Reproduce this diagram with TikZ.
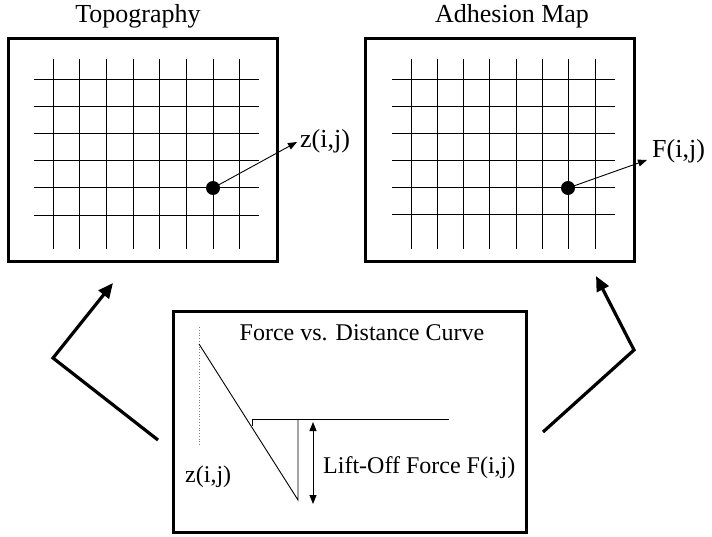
\documentclass[tikz,border=0pt]{standalone}
\usepackage{fontspec}
\setmainfont{Liberation Serif}
\usetikzlibrary{arrows.meta}
\begin{document}
\begin{tikzpicture}[x=1bp,y=-1bp,
  frame/.style={draw, line width=3bp, inner sep=0pt, outer sep=0pt},
  gridline/.style={line width=0.9bp},
  dot/.style={circle, fill=black, inner sep=0pt, minimum size=14bp},
  smallarrow/.style={line width=0.9bp, -{Triangle[length=9bp,width=7bp]}},
  dblarrow/.style={line width=0.9bp, {Triangle[length=9bp,width=7bp]}-{Triangle[length=9bp,width=7bp]}},
  bigarrow/.style={line width=3.2bp, line join=miter, -{Triangle[length=15bp,width=13bp]}},
  curve/.style={line width=0.9bp},
  axis/.style={gray, line width=0.8bp, dotted},
  title/.style={font=\fontsize{26bp}{30bp}\selectfont, inner sep=0pt},
  lbl/.style={font=\fontsize{26bp}{30bp}\selectfont, inner sep=0pt},
  sublbl/.style={font=\fontsize{24bp}{28bp}\selectfont, inner sep=0pt}]
\useasboundingbox (0,0) rectangle (712,537);

% titles
\node[title, anchor=base] (ttopo) at (138,23) {Topography};
\node[title, anchor=base] (tadh) at (512,23) {Adhesion Map};

% frames
\node[frame, minimum width=269bp, minimum height=223bp] (topo) at (143,150) {};
\node[frame, minimum width=269bp, minimum height=223bp] (adh) at (500,150) {};
\node[frame, minimum width=353bp, minimum height=221bp] (fd) at (350,422) {};

% grids
\foreach \i in {0,...,7} {
  \draw[gridline] ({53+26.7*\i},59) -- ({53+26.7*\i},249);
  \draw[gridline] ({411+26.3*\i},59) -- ({411+26.3*\i},249);
}
\foreach \j in {0,...,5} {
  \draw[gridline] (34,{79+27.2*\j}) -- (259,{79+27.2*\j});
  \draw[gridline] (392,{79+27.0*\j}) -- (615,{79+27.0*\j});
}

% points and labels
\node[dot] (zp) at (213,188) {};
\node[dot] (fp) at (568,188) {};
\node[lbl, anchor=base west] (zlab) at (300,148) {z(i,j)};
\node[lbl, anchor=base west] (flab) at (652,158) {F(i,j)};
\coordinate (ztip) at (297,142);
\coordinate (ftip) at (647,160);
\draw[smallarrow] (zp.center) -- (ztip);
\draw[smallarrow] (fp.center) -- (ftip);

% force-distance curve
\node[sublbl, anchor=base] (fdt) at (362,340) {Force vs. Distance Curve};
\coordinate (ax0) at (199,327);
\coordinate (ax1) at (199,446);
\draw[axis] (ax0) -- (ax1);
\coordinate (c0) at (199,344);
\coordinate (c1) at (298,500);
\coordinate (c2) at (298,419);
\coordinate (c3) at (252,426);
\coordinate (c4) at (252,419);
\coordinate (c5) at (449,419);
\draw[curve] (c0) -- (c1) -- (c2);
\draw[curve] (c3) -- (c4) -- (c5);
\coordinate (da) at (313,422);
\coordinate (db) at (313,504);
\draw[dblarrow] (da) -- (db);
\node[sublbl, anchor=base west] (zsub) at (185,482) {z(i,j)};
\node[sublbl, anchor=base west] (lift) at (323,473) {Lift-Off Force F(i,j)};

% big arrows
\coordinate (la0) at (158,440);
\coordinate (la1) at (53,358);
\coordinate (la2) at (113,283);
\coordinate (ra0) at (543,432);
\coordinate (ra1) at (634,350);
\coordinate (ra2) at (596,276);
\draw[bigarrow] (la0) -- (la1) -- (la2);
\draw[bigarrow] (ra0) -- (ra1) -- (ra2);
\end{tikzpicture}
\end{document}
